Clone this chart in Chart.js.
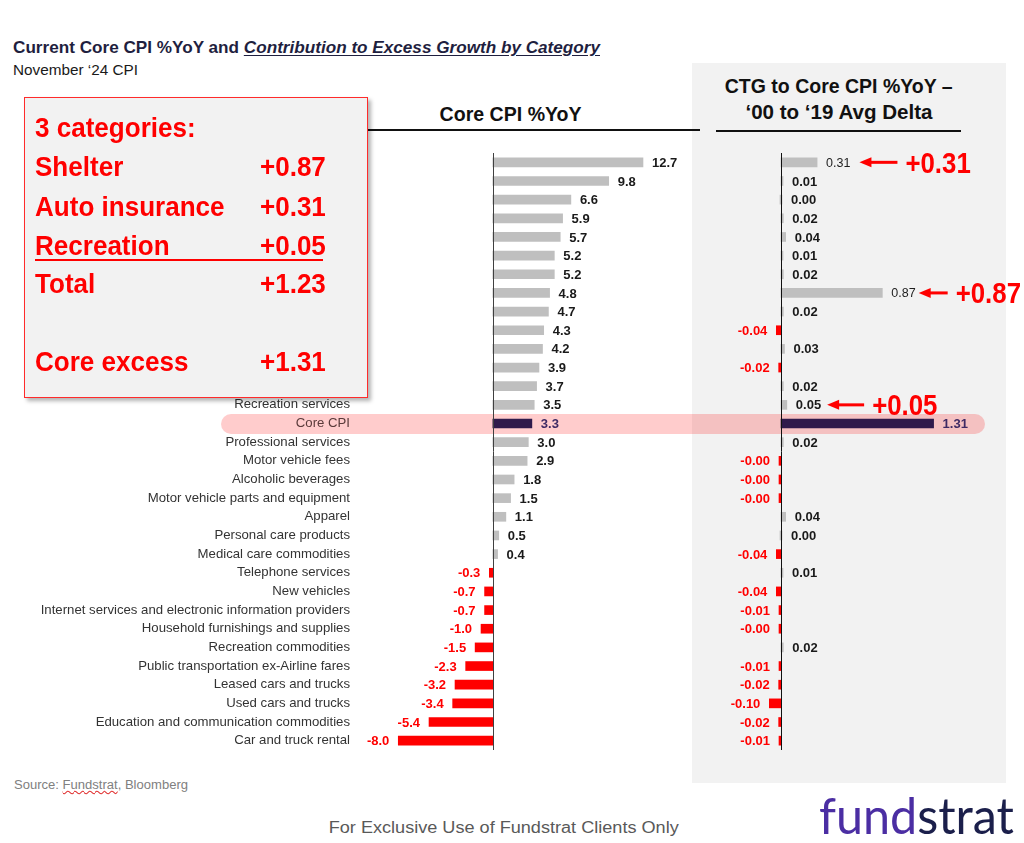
<!DOCTYPE html>
<html>
<head>
<meta charset="utf-8">
<script src="https://cdn.jsdelivr.net/npm/chart.js@4.4.1/dist/chart.umd.min.js"></script>
<style>
body { margin: 0; }
#page { position: relative; width: 1024px; height: 843px; background: #fff; overflow: hidden; font-family: "Liberation Sans", Arial, sans-serif; }
.abs { position: absolute; white-space: nowrap; }
.fit { display: inline-block; }
#panel { left: 692px; top: 63px; width: 314px; height: 720px; background: #f2f2f2; z-index: 1; }
#band { left: 221px; top: 414px; width: 764px; height: 20px; border-radius: 10px; background: rgba(255, 0, 0, 0.2); z-index: 2; }
#leftWrap { left: 0; top: 153px; width: 682px; height: 597px; z-index: 3; }
#rightWrap { left: 692px; top: 153px; width: 332px; height: 597px; z-index: 3; }
.hdr { font-weight: bold; color: #111; font-size: 20px; line-height: 20px; z-index: 4; }
.rule { height: 2px; background: #111; z-index: 4; }
#callout { left: 24px; top: 97px; width: 342px; height: 299px; background: #f2f2f2; border: 1.5px solid #ff2b2b; box-shadow: 3px 3px 4px rgba(0, 0, 0, 0.3); z-index: 5; }
.big { font-weight: bold; color: #ff0000; font-size: 28px; line-height: 28px; z-index: 6; }
</style>
</head>
<body>
<div id="page">
  <div class="abs" id="panel"></div>
  <div class="abs" id="band"></div>

  <div class="abs" style="left:13px; top:39px; font-size:16.5px; line-height:16.5px; font-weight:bold; color:#1f1f3f; z-index:4;">
    <span class="fit" id="title">Current Core CPI %YoY and <i style="text-decoration:underline; text-underline-offset:2px;">Contribution to Excess Growth by Category</i></span>
  </div>
  <div class="abs" style="left:13px; top:62.5px; font-size:14.5px; line-height:14.5px; color:#1a1a1a; z-index:4;">
    <span class="fit" id="subtitle">November ‘24 CPI</span>
  </div>

  <div class="abs hdr" style="left:311px; width:400px; top:104px; text-align:center;"><span class="fit" id="hdrLeft">Core CPI %YoY</span></div>
  <div class="abs rule" style="left:300px; top:129px; width:400px;"></div>
  <div class="abs hdr" style="left:639px; width:400px; top:75px; text-align:center; font-size:21px; line-height:21px;"><span class="fit" id="hdrRight1">CTG to Core CPI %YoY –</span></div>
  <div class="abs hdr" style="left:639px; width:400px; top:102px; text-align:center;"><span class="fit" id="hdrRight2">‘00 to ‘19 Avg Delta</span></div>
  <div class="abs rule" style="left:716px; top:130px; width:245px;"></div>

  <div class="abs" id="leftWrap"><canvas id="chartLeft"></canvas></div>
  <div class="abs" id="rightWrap"><canvas id="chartRight"></canvas></div>

  <div class="abs" id="callout"></div>

  <div class="abs" style="left:14px; top:779px; font-size:12.5px; line-height:12.5px; color:#808080; z-index:4;">
    <span class="fit" id="source">Source: <span style="text-decoration:underline wavy #e03030; text-decoration-thickness:1px;">Fundstrat</span>, Bloomberg</span>
  </div>
  <div class="abs" style="left:254px; width:500px; top:820px; text-align:center; font-size:16px; line-height:16px; color:#595959; z-index:4;">
    <span class="fit" id="footer">For Exclusive Use of Fundstrat Clients Only</span>
  </div>
  <div class="abs" style="left:819px; top:790px; font-family:Lato, 'Open Sans', sans-serif; font-size:50px; line-height:50px; z-index:4;">
    <span class="fit" id="logo"><span style="color:#4b2ea3;">fund</span><span style="color:#1b1f4b;">strat</span></span>
  </div>
</div>

<script>
var categories = ['Motor vehicle insurance', '', '', '', '', '', '', 'Shelter', '', '', '', '', '',
    'Recreation services', 'Core CPI', 'Professional services', 'Motor vehicle fees', 'Alcoholic beverages',
    'Motor vehicle parts and equipment', 'Apparel', 'Personal care products', 'Medical care commodities',
    'Telephone services', 'New vehicles', 'Internet services and electronic information providers',
    'Household furnishings and supplies', 'Recreation commodities', 'Public transportation ex-Airline fares',
    'Leased cars and trucks', 'Used cars and trucks', 'Education and communication commodities', 'Car and truck rental'];

// Core CPI %YoY by category
var coreYoY = [12.7, 9.8, 6.6, 5.9, 5.7, 5.2, 5.2, 4.8, 4.7, 4.3, 4.2, 3.9, 3.7, 3.5, 3.3, 3.0,
    2.9, 1.8, 1.5, 1.1, 0.5, 0.4, -0.3, -0.7, -0.7, -1.0, -1.5, -2.3, -3.2, -3.4, -5.4, -8.0];

// contribution to growth vs '00-'19 average
var ctgDelta = [0.31, 0.01, 0.00, 0.02, 0.04, 0.01, 0.02, 0.87, 0.02, -0.04, 0.03, -0.02, 0.02, 0.05, 1.31, 0.02,
    -0.004, -0.004, -0.004, 0.04, 0.00, -0.04, 0.01, -0.04, -0.01, -0.004, 0.02, -0.01, -0.02, -0.10, -0.02, -0.01];

// callout box
var boxLabels = ['Shelter', 'Auto insurance', 'Recreation', 'Total', 'Core excess'];
var boxValues = ['+0.87', '+0.31', '+0.05', '+1.23', '+1.31'];

// arrows on the right panel
var noteRows = [0, 7, 13];
var noteTexts = ['+0.31', '+0.87', '+0.05'];
var noteGap = [9, 3, 6];
var noteLen = [38, 29, 37];

var FONT = '"Liberation Sans", Arial, sans-serif';
var coreIndex = categories.indexOf('Core CPI');

function fmt(v, d) {
    return (v < 0 ? '-' : '') + Math.abs(v).toFixed(d);
}

function barColor(c) {
    if (c.dataIndex === coreIndex) return '#2f1a4b';
    return c.raw < 0 ? '#ff0000' : '#bfbfbf';
}

function labelFont(chart, i) {
    var small = chart.options.plugins.valueLabels.smallRows.indexOf(i) >= 0;
    return (small ? '12.5px ' : 'bold 13px ') + FONT;
}

var valueLabels = {
    id: 'valueLabels',
    afterDatasetsDraw: function (chart, args, opts) {
        var ctx = chart.ctx;
        var meta = chart.getDatasetMeta(0);
        var data = chart.data.datasets[0].data;
        ctx.save();
        ctx.textBaseline = 'middle';
        meta.data.forEach(function (bar, i) {
            var v = data[i];
            ctx.font = labelFont(chart, i);
            if (i === coreIndex) ctx.fillStyle = '#3e2a64';
            else if (v < 0) ctx.fillStyle = '#ff0000';
            else ctx.fillStyle = opts.smallRows.indexOf(i) >= 0 ? '#1f1f1f' : '#1a1a1a';
            if (v < 0) {
                ctx.textAlign = 'right';
                ctx.fillText(fmt(v, opts.decimals), Math.min(bar.x, bar.base) - 9, bar.y + 1);
            } else {
                ctx.textAlign = 'left';
                ctx.fillText(fmt(v, opts.decimals), Math.max(bar.x, bar.base) + 9, bar.y + 1);
            }
        });
        ctx.restore();
    }
};

var zeroLine = {
    id: 'zeroLine',
    afterDatasetsDraw: function (chart, args, opts) {
        var ctx = chart.ctx;
        var x = Math.round(chart.scales.x.getPixelForValue(0)) + 0.5;
        ctx.save();
        ctx.strokeStyle = opts.color;
        ctx.lineWidth = 1;
        ctx.beginPath();
        ctx.moveTo(x, chart.chartArea.top);
        ctx.lineTo(x, chart.chartArea.bottom);
        ctx.stroke();
        ctx.restore();
    }
};

var arrowNotes = {
    id: 'arrowNotes',
    afterDatasetsDraw: function (chart) {
        var ctx = chart.ctx;
        var meta = chart.getDatasetMeta(0);
        ctx.save();
        noteRows.forEach(function (row, k) {
            var bar = meta.data[row];
            ctx.font = labelFont(chart, row);
            var tip = Math.max(bar.x, bar.base) + 9 + ctx.measureText(fmt(ctgDelta[row], 2)).width + noteGap[k];
            var tail = tip + noteLen[k];
            var y = bar.y;
            ctx.fillStyle = '#ff0000';
            ctx.strokeStyle = '#ff0000';
            ctx.lineWidth = 3;
            ctx.beginPath();
            ctx.moveTo(tip + 8, y);
            ctx.lineTo(tail, y);
            ctx.stroke();
            ctx.beginPath();
            ctx.moveTo(tip, y);
            ctx.lineTo(tip + 12, y - 5);
            ctx.lineTo(tip + 12, y + 5);
            ctx.closePath();
            ctx.fill();
            ctx.save();
            ctx.translate(tail + 8, y + 10.5);
            ctx.scale(0.89, 1);
            ctx.font = 'bold 29px ' + FONT;
            ctx.textAlign = 'left';
            ctx.textBaseline = 'alphabetic';
            ctx.fillText(noteTexts[k], 0, 0);
            ctx.restore();
        });
        ctx.restore();
    }
};

new Chart(document.getElementById('chartLeft'), {
    type: 'bar',
    data: {
        labels: categories,
        datasets: [{
            data: coreYoY,
            backgroundColor: barColor,
            barThickness: 9,
            borderWidth: 0
        }]
    },
    plugins: [zeroLine, valueLabels],
    options: {
        responsive: true,
        maintainAspectRatio: false,
        animation: false,
        indexAxis: 'y',
        layout: { padding: 0 },
        plugins: {
            legend: { display: false },
            tooltip: { enabled: false },
            zeroLine: { color: '#404040' },
            valueLabels: { decimals: 1, smallRows: [] }
        },
        scales: {
            x: { display: false, min: -12, max: 16 },
            y: {
                grid: { display: false, drawTicks: false },
                border: { display: false },
                ticks: {
                    autoSkip: false,
                    padding: 1,
                    font: { family: FONT, size: 13.2 },
                    color: function (c) {
                        return c.index === coreIndex ? '#5a3a3a' : '#333333';
                    }
                },
                afterFit: function (scale) {
                    scale.width = 351;
                    scale.paddingTop = 0;
                    scale.paddingBottom = 0;
                }
            }
        }
    }
});

new Chart(document.getElementById('chartRight'), {
    type: 'bar',
    data: {
        labels: categories,
        datasets: [{
            data: ctgDelta,
            backgroundColor: barColor,
            barThickness: 9,
            minBarLength: 2,
            borderWidth: 0
        }]
    },
    plugins: [zeroLine, valueLabels, arrowNotes],
    options: {
        responsive: true,
        maintainAspectRatio: false,
        animation: false,
        indexAxis: 'y',
        layout: { padding: 0 },
        plugins: {
            legend: { display: false },
            tooltip: { enabled: false },
            zeroLine: { color: '#111111' },
            valueLabels: { decimals: 2, smallRows: [0, 7] }
        },
        scales: {
            x: { display: false, min: -0.764, max: 2.086 },
            y: { display: false }
        }
    }
});

// callout box text
var page = document.getElementById('page');
var boxTops = [153, 193, 232, 270, 348];
function addBig(text, left, top, align) {
    var d = document.createElement('div');
    d.className = 'abs big';
    d.style.top = top + 'px';
    if (align === 'right') d.style.right = (1024 - left) + 'px';
    else d.style.left = left + 'px';
    d.style.transformOrigin = align === 'right' ? 'right' : 'left';
    d.style.transform = 'scaleX(0.93)';
    d.textContent = text;
    page.appendChild(d);
}
addBig('3 categories:', 35, 114, 'left');
boxLabels.forEach(function (t, i) {
    addBig(t, 35, boxTops[i], 'left');
    addBig(boxValues[i], 326, boxTops[i], 'right');
});
var ul = document.createElement('div');
ul.className = 'abs';
ul.style.cssText = 'left:35px; top:259px; width:288px; height:2px; background:#ff0000; z-index:6;';
page.appendChild(ul);

// squeeze text to the widths seen in the source
function fitWidth(id, w, origin) {
    var el = document.getElementById(id);
    var r = el.getBoundingClientRect().width;
    el.style.transformOrigin = origin;
    el.style.transform = 'scaleX(' + (w / r) + ')';
}
fitWidth('title', 587, 'left');
fitWidth('subtitle', 125, 'left');
fitWidth('hdrLeft', 142, 'center');
fitWidth('hdrRight1', 228, 'center');
fitWidth('hdrRight2', 187, 'center');
fitWidth('source', 174, 'left');
fitWidth('footer', 350, 'center');
fitWidth('logo', 195, 'left');
</script>
</body>
</html>
